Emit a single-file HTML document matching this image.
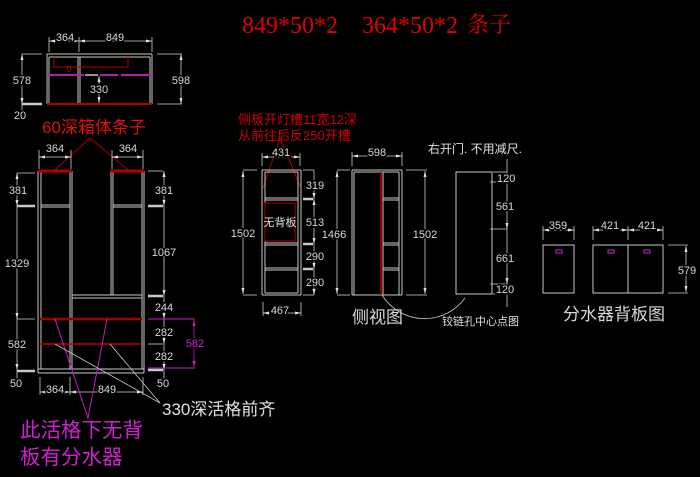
<!DOCTYPE html>
<html><head><meta charset="utf-8"><style>
html,body{margin:0;padding:0;background:#000;}
svg{display:block;}
.l{stroke:#c8c8c8;stroke-width:1;fill:none;}
.d{stroke:#d0d0d0;stroke-width:0.8;fill:none;}
.t{font-family:"Liberation Sans",sans-serif;font-size:11px;fill:#d8d8d8;text-anchor:middle;stroke:#000;stroke-width:3px;paint-order:stroke;}
.c{font-family:"Liberation Sans","Noto Sans CJK SC",sans-serif;}
</style></head><body>
<svg width="700" height="477" viewBox="0 0 700 477" xmlns="http://www.w3.org/2000/svg">
<defs>
<marker id="a" markerWidth="6" markerHeight="4" refX="6" refY="2" orient="auto-start-reverse" markerUnits="userSpaceOnUse"><path d="M0,0.5L6,2L0,3.5z" fill="#e0e0e0"/></marker>
<marker id="m" markerWidth="6" markerHeight="4" refX="6" refY="2" orient="auto-start-reverse" markerUnits="userSpaceOnUse"><path d="M0,0.5L6,2L0,3.5z" fill="#d020d0"/></marker>
</defs>
<rect width="700" height="477" fill="#000"/>

<!-- Title -->
<text x="242" y="33" font-family="Liberation Serif,serif" font-size="24" fill="#e00000">849*50*2</text>
<text x="362" y="33" font-family="Liberation Serif,serif" font-size="24" fill="#e00000">364*50*2</text>
<text x="467" y="32" font-family="Liberation Serif,'Noto Serif CJK SC',serif" font-size="22" fill="#e00000">条子</text>

<!-- ===== Top small cabinet ===== -->
<g class="l">
<line x1="47" y1="54" x2="152" y2="54"/><line x1="49" y1="57" x2="150" y2="57"/>
<line x1="47" y1="54" x2="47" y2="104"/><line x1="49" y1="57" x2="49" y2="104"/>
<line x1="150" y1="57" x2="150" y2="104"/><line x1="152" y1="54" x2="152" y2="104"/>
<line x1="78" y1="57" x2="78" y2="104"/><line x1="80" y1="57" x2="80" y2="104"/>
</g>
<line x1="47" y1="104" x2="152" y2="104" stroke="#b00000" stroke-width="2"/>
<polyline points="54,57 54,67 128,67 128,57" fill="none" stroke="#b00000" stroke-width="1"/>
<text x="69" y="72" font-family="Liberation Sans,sans-serif" font-size="8" fill="#d00000" text-anchor="middle">0</text>
<line x1="49" y1="75" x2="84" y2="75" stroke="#b020b0" stroke-width="2"/>
<line x1="85" y1="75" x2="98" y2="75" stroke="#c8c8c8" stroke-width="1.5"/>
<line x1="100" y1="75" x2="118" y2="75" stroke="#b020b0" stroke-width="2"/>
<line x1="121" y1="75" x2="151" y2="75" stroke="#b020b0" stroke-width="2"/>
<line class="d" x1="99" y1="76" x2="99" y2="103" marker-start="url(#a)" marker-end="url(#a)"/>
<text class="t" x="99" y="93">330</text>
<!-- top dims -->
<g class="d">
<line x1="49" y1="37" x2="49" y2="52"/><line x1="79" y1="37" x2="79" y2="52"/><line x1="152" y1="37" x2="152" y2="52"/>
<line x1="49" y1="41" x2="79" y2="41" marker-start="url(#a)" marker-end="url(#a)"/>
<line x1="79" y1="41" x2="152" y2="41" marker-start="url(#a)" marker-end="url(#a)"/>
<line x1="22" y1="54" x2="42" y2="54"/><line x1="22" y1="104" x2="42" y2="104"/>
<line x1="22" y1="54" x2="22" y2="104" marker-start="url(#a)" marker-end="url(#a)"/>
<line x1="157" y1="54" x2="182" y2="54"/><line x1="157" y1="104" x2="182" y2="104"/>
<line x1="181" y1="54" x2="181" y2="104" marker-start="url(#a)" marker-end="url(#a)"/>
<line x1="22" y1="104" x2="22" y2="112"/>
</g>
<line x1="22" y1="104" x2="42" y2="104" stroke="#c8c8c8" stroke-width="2.5"/>
<text class="t" x="65" y="41">364</text>
<text class="t" x="115" y="41">849</text>
<text class="t" x="22" y="84">578</text>
<text class="t" x="181" y="84">598</text>
<text class="t" x="20" y="119">20</text>

<!-- 60深箱体条子 -->
<text x="42" y="133" class="c" font-size="17" fill="#e01010">60深箱体条子</text>
<polyline points="55,170 90,138 128,170" fill="none" stroke="#b00000" stroke-width="1"/>

<!-- ===== Main cabinet ===== -->
<g class="l">
<line x1="38" y1="171" x2="38" y2="373"/><line x1="41" y1="171" x2="41" y2="369"/>
<line x1="70" y1="171" x2="70" y2="369"/><line x1="72" y1="171" x2="72" y2="369"/>
<line x1="111" y1="171" x2="111" y2="295"/><line x1="113" y1="171" x2="113" y2="295"/>
<line x1="142" y1="171" x2="142" y2="369"/><line x1="144" y1="171" x2="144" y2="373"/>
<line x1="41" y1="205" x2="70" y2="205"/><line x1="41" y1="207" x2="70" y2="207"/>
<line x1="113" y1="205" x2="142" y2="205"/><line x1="113" y1="207" x2="142" y2="207"/>
<line x1="72" y1="295" x2="142" y2="295"/><line x1="72" y1="298" x2="142" y2="298"/>
<line x1="38" y1="369" x2="144" y2="369"/><line x1="38" y1="373" x2="144" y2="373"/>
</g>
<line x1="38" y1="171" x2="72" y2="171" stroke="#b00000" stroke-width="3"/>
<line x1="110" y1="171" x2="144" y2="171" stroke="#b00000" stroke-width="3"/>
<line x1="40" y1="319" x2="142" y2="319" stroke="#a00000" stroke-width="2.5"/>
<line x1="40" y1="344" x2="142" y2="344" stroke="#c00000" stroke-width="1.5"/>

<!-- main dims -->
<g class="d">
<line x1="39" y1="150" x2="39" y2="169"/><line x1="71" y1="150" x2="71" y2="169"/>
<line x1="112" y1="150" x2="112" y2="169"/><line x1="143" y1="150" x2="143" y2="169"/>
<line x1="39" y1="157" x2="71" y2="157" marker-start="url(#a)" marker-end="url(#a)"/>
<line x1="112" y1="157" x2="143" y2="157" marker-start="url(#a)" marker-end="url(#a)"/>
<!-- left -->
<line x1="17" y1="173" x2="35" y2="173"/>
<line x1="17" y1="319" x2="35" y2="319"/>
<line x1="17" y1="173" x2="17" y2="206" marker-start="url(#a)" marker-end="url(#a)"/>
<line x1="17" y1="206" x2="17" y2="319" marker-end="url(#a)"/>
<line x1="17" y1="319" x2="17" y2="370" marker-end="url(#a)"/>
<line x1="17" y1="370" x2="17" y2="384"/>
<!-- right -->
<line x1="148" y1="171" x2="163" y2="171"/>
<line x1="148" y1="344" x2="163" y2="344"/>
<line x1="164" y1="171" x2="164" y2="206" marker-start="url(#a)" marker-end="url(#a)"/>
<line x1="164" y1="206" x2="164" y2="296" marker-end="url(#a)"/>
<line x1="164" y1="296" x2="164" y2="319" marker-end="url(#a)"/>
<line x1="164" y1="319" x2="164" y2="344" marker-end="url(#a)"/>
<line x1="164" y1="344" x2="164" y2="370" marker-end="url(#a)"/>
<line x1="164" y1="370" x2="164" y2="384"/>
<!-- bottom -->
<line x1="40" y1="377" x2="40" y2="395"/><line x1="70" y1="377" x2="70" y2="395"/><line x1="143" y1="377" x2="143" y2="395"/>
<line x1="40" y1="392" x2="70" y2="392" marker-start="url(#a)" marker-end="url(#a)"/>
<line x1="70" y1="392" x2="143" y2="392" marker-start="url(#a)" marker-end="url(#a)"/>
</g>
<g stroke="#c8c8c8" stroke-width="2.5">
<line x1="17" y1="206" x2="35" y2="206"/><line x1="17" y1="371" x2="35" y2="371"/>
<line x1="148" y1="206" x2="163" y2="206"/><line x1="148" y1="296" x2="163" y2="296"/>
<line x1="148" y1="370" x2="163" y2="370"/>
</g>
<line x1="148" y1="319" x2="195" y2="319" stroke="#d020d0" stroke-width="1"/>
<line x1="148" y1="368" x2="195" y2="368" stroke="#d020d0" stroke-width="1"/>
<line x1="194" y1="320" x2="194" y2="367" stroke="#d020d0" stroke-width="0.8" marker-start="url(#m)" marker-end="url(#m)"/>
<text class="t" x="55" y="152">364</text>
<text class="t" x="128" y="152">364</text>
<text class="t" x="18" y="194">381</text>
<text class="t" x="17" y="267">1329</text>
<text class="t" x="17" y="348">582</text>
<text class="t" x="16" y="387">50</text>
<text class="t" x="164" y="194">381</text>
<text class="t" x="164" y="256">1067</text>
<text class="t" x="164" y="311">244</text>
<text class="t" x="164" y="336">282</text>
<text class="t" x="164" y="360">282</text>
<text class="t" x="163" y="387">50</text>
<text class="t" x="195" y="347" style="fill:#d020d0">582</text>
<text class="t" x="55" y="393">364</text>
<text class="t" x="107" y="393">849</text>

<!-- leaders -->
<polyline points="55,319 88,418 107,319" fill="none" stroke="#c020c0" stroke-width="1"/>
<line x1="55" y1="344" x2="160" y2="403" stroke="#c8c8c8" stroke-width="0.8"/>
<line x1="110" y1="344" x2="160" y2="403" stroke="#c8c8c8" stroke-width="0.8"/>
<text x="162" y="415" class="c" font-size="17" fill="#e0e0e0">330深活格前齐</text>
<text x="20" y="437" class="c" font-size="20.5" fill="#d020d0">此活格下无背</text>
<text x="20" y="464" class="c" font-size="20.5" fill="#d020d0">板有分水器</text>

<!-- ===== Side view 1 ===== -->
<text x="238" y="124" class="c" font-size="13" fill="#d00000">侧板开灯槽11宽12深</text>
<text x="238" y="140" class="c" font-size="13" fill="#d00000">从前往后反250开槽</text>
<polyline points="263,188 280,138 300,186" fill="none" stroke="#b00000" stroke-width="1"/>
<g class="l">
<line x1="262" y1="170" x2="262" y2="295"/><line x1="265" y1="172" x2="265" y2="293"/>
<line x1="298" y1="172" x2="298" y2="293"/><line x1="301" y1="170" x2="301" y2="295"/>
<line x1="262" y1="170" x2="301" y2="170"/><line x1="265" y1="172" x2="298" y2="172"/>
<line x1="265" y1="198" x2="298" y2="198"/><line x1="265" y1="200" x2="298" y2="200"/>
<line x1="265" y1="243" x2="298" y2="243"/><line x1="265" y1="245" x2="298" y2="245"/>
<line x1="265" y1="268" x2="298" y2="268"/><line x1="265" y1="270" x2="298" y2="270"/>
<line x1="265" y1="293" x2="298" y2="293"/><line x1="262" y1="295" x2="301" y2="295"/>
</g>
<rect x="265" y="203" width="30" height="38" fill="none" stroke="#b00000" stroke-width="1"/>
<text x="280" y="226" class="c" font-size="11" fill="#e0e0e0" text-anchor="middle">无背板</text>
<g class="d">
<line x1="262" y1="153" x2="262" y2="166"/><line x1="300" y1="153" x2="300" y2="166"/>
<line x1="262" y1="157" x2="300" y2="157" marker-start="url(#a)" marker-end="url(#a)"/>
<line x1="243" y1="170" x2="257" y2="170"/><line x1="243" y1="295" x2="257" y2="295"/>
<line x1="243" y1="171" x2="243" y2="294" marker-start="url(#a)" marker-end="url(#a)"/>
<line x1="303" y1="170" x2="314" y2="170"/>
<line x1="303" y1="295" x2="314" y2="295"/>
<line x1="314" y1="170" x2="314" y2="199" marker-end="url(#a)"/>
<line x1="314" y1="199" x2="314" y2="244" marker-start="url(#a)" marker-end="url(#a)"/>
<line x1="314" y1="244" x2="314" y2="269" marker-end="url(#a)"/>
<line x1="314" y1="269" x2="314" y2="295" marker-end="url(#a)"/>
<line x1="263" y1="302" x2="263" y2="316"/><line x1="301" y1="302" x2="301" y2="316"/>
<line x1="263" y1="313" x2="301" y2="313" marker-start="url(#a)" marker-end="url(#a)"/>
</g>
<g stroke="#c8c8c8" stroke-width="2.5">
<line x1="303" y1="199" x2="313" y2="199"/><line x1="303" y1="244" x2="313" y2="244"/><line x1="303" y1="269" x2="313" y2="269"/>
</g>
<text class="t" x="281" y="156">431</text>
<text class="t" x="243" y="237">1502</text>
<text class="t" x="315" y="189">319</text>
<text class="t" x="315" y="226">513</text>
<text class="t" x="315" y="260">290</text>
<text class="t" x="315" y="286">290</text>
<text class="t" x="280" y="314">467</text>

<!-- ===== Side view 2 ===== -->
<g class="l">
<line x1="352" y1="170" x2="402" y2="170"/><line x1="354" y1="172" x2="399" y2="172"/>
<line x1="352" y1="170" x2="352" y2="295"/><line x1="354" y1="172" x2="354" y2="295"/>
<line x1="383" y1="172" x2="383" y2="295"/>
<line x1="399" y1="172" x2="399" y2="295"/><line x1="402" y1="170" x2="402" y2="295"/>
<line x1="383" y1="198" x2="399" y2="198"/><line x1="383" y1="200" x2="399" y2="200"/>
<line x1="383" y1="243" x2="399" y2="243"/><line x1="383" y1="245" x2="399" y2="245"/>
<line x1="383" y1="268" x2="399" y2="268"/><line x1="383" y1="270" x2="399" y2="270"/>
<line x1="352" y1="295" x2="402" y2="295"/>
</g>
<line x1="381" y1="172" x2="381" y2="295" stroke="#c00000" stroke-width="1.5"/>
<g class="d">
<line x1="352" y1="152" x2="352" y2="166"/><line x1="402" y1="152" x2="402" y2="166"/>
<line x1="352" y1="156" x2="402" y2="156" marker-start="url(#a)" marker-end="url(#a)"/>
<line x1="337" y1="170" x2="350" y2="170"/><line x1="337" y1="295" x2="350" y2="295"/>
<line x1="337" y1="171" x2="337" y2="294" marker-start="url(#a)" marker-end="url(#a)"/>
<line x1="406" y1="170" x2="427" y2="170"/><line x1="406" y1="295" x2="427" y2="295"/>
<line x1="425" y1="171" x2="425" y2="294" marker-start="url(#a)" marker-end="url(#a)"/>
</g>
<text class="t" x="377" y="156">598</text>
<text class="t" x="334" y="238">1466</text>
<text class="t" x="425" y="238">1502</text>
<text x="352" y="323" class="c" font-size="17" fill="#d8d8d8">侧视图</text>
<path d="M382,295 A50,50 0 0 0 465,298" fill="none" stroke="#c8c8c8" stroke-width="0.8"/>

<!-- ===== Door ===== -->
<text x="428" y="153" class="c" font-size="12" fill="#e0e0e0">右开门. 不用减尺.</text>
<rect x="456" y="172" width="36" height="122" fill="none" stroke="#c8c8c8" stroke-width="1"/>
<g class="d">
<line x1="493" y1="172" x2="507" y2="172"/>
<line x1="490" y1="182" x2="507" y2="182"/>
<line x1="490" y1="229" x2="507" y2="229"/>
<line x1="490" y1="284" x2="507" y2="284"/>
<line x1="493" y1="294" x2="507" y2="294"/>
<line x1="507" y1="159" x2="507" y2="182" marker-end="url(#a)"/>
<line x1="507" y1="182" x2="507" y2="229" marker-end="url(#a)"/>
<line x1="507" y1="229" x2="507" y2="284" marker-end="url(#a)"/>
<line x1="507" y1="284" x2="507" y2="307"/>
</g>
<text class="t" x="505" y="182" style="text-anchor:start" dx="-8">120</text>
<text class="t" x="505" y="210" dx="0">561</text>
<text class="t" x="505" y="262">661</text>
<text class="t" x="505" y="293">120</text>
<text x="442" y="325" class="c" font-size="11" fill="#e0e0e0">铰链孔中心点图</text>

<!-- ===== 分水器背板图 ===== -->
<g fill="none" stroke="#c8c8c8" stroke-width="1">
<rect x="543" y="245" width="31" height="48"/>
<rect x="593" y="245" width="70" height="48"/>
<line x1="628" y1="245" x2="628" y2="293"/>
</g>
<g fill="none" stroke="#d020d0" stroke-width="1">
<rect x="556" y="250" width="6" height="3"/>
<rect x="608" y="250" width="6" height="3"/>
<rect x="644" y="250" width="6" height="3"/>
</g>
<g class="d">
<line x1="543" y1="226" x2="543" y2="240"/><line x1="574" y1="226" x2="574" y2="240"/>
<line x1="543" y1="230" x2="574" y2="230" marker-start="url(#a)" marker-end="url(#a)"/>
<line x1="593" y1="226" x2="593" y2="240"/><line x1="628" y1="226" x2="628" y2="240"/><line x1="663" y1="226" x2="663" y2="240"/>
<line x1="593" y1="230" x2="628" y2="230" marker-start="url(#a)" marker-end="url(#a)"/>
<line x1="628" y1="230" x2="663" y2="230" marker-start="url(#a)" marker-end="url(#a)"/>
<line x1="668" y1="245" x2="688" y2="245"/><line x1="668" y1="293" x2="688" y2="293"/>
<line x1="686" y1="246" x2="686" y2="292" marker-start="url(#a)" marker-end="url(#a)"/>
</g>
<text class="t" x="558" y="229">359</text>
<text class="t" x="610" y="229">421</text>
<text class="t" x="647" y="229">421</text>
<text class="t" x="687" y="274">579</text>
<text x="563" y="320" class="c" font-size="17" fill="#d8d8d8">分水器背板图</text>
</svg>
</body></html>
